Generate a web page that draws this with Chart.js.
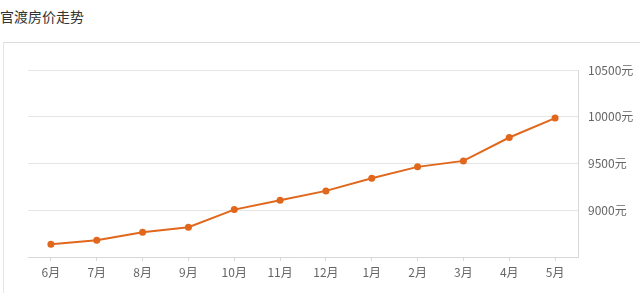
<!DOCTYPE html>
<html>
<head>
<meta charset="utf-8">
<script src="https://cdn.jsdelivr.net/npm/chart.js@4"></script>
<style>
    html, body { margin: 0; padding: 0; background: #fff; }
    body { width: 640px; height: 293px; position: relative; overflow: hidden; }
    .title {
        position: absolute; left: 0; top: 7px;
        font-family: "Noto Sans CJK SC", sans-serif; font-size: 14px; color: #333;
        line-height: 18px;
    }
    .card {
        position: absolute; left: 3px; top: 42px; right: 0; bottom: 0;
        border-top: 1px solid #ddd; border-left: 1px solid #e4e4e4;
    }
    #chart { position: absolute; left: 0; top: 0; }
</style>
</head>
<body>
<div class="title">官渡房价走势</div>
<div class="card"></div>
<canvas id="chart" width="640" height="293"></canvas>
<script>
// Months and average price (元/m²)
const months = ['6月', '7月', '8月', '9月', '10月', '11月', '12月', '1月', '2月', '3月', '4月', '5月'];
const prices = [8636, 8680, 8765, 8818, 9007, 9107, 9207, 9343, 9464, 9528, 9778, 9986];
const yTicks = [8500, 9000, 9500, 10000, 10500];

const lineColor = '#e0671c';
const gridColor = '#e6e6e6';
const font = { family: '"Noto Sans CJK SC", sans-serif', size: 12 };

const ctx = document.getElementById('chart').getContext('2d');
new Chart(ctx, {
    type: 'line',
    data: {
        labels: months,
        datasets: [{
            label: '房价',
            data: prices,
            borderColor: lineColor,
            backgroundColor: lineColor,
            borderWidth: 2,
            pointRadius: 3.5,
            pointBackgroundColor: lineColor,
            pointBorderWidth: 0,
            tension: 0,
            fill: false
        }]
    },
    options: {
        responsive: false,
        animation: false,
        layout: { padding: { left: 28, top: 70, right: 0, bottom: 0 } },
        plugins: {
            legend: { display: false },
            tooltip: { enabled: false }
        },
        scales: {
            x: {
                offset: true,
                grid: { drawOnChartArea: false, tickLength: 4, color: '#d8d8d8' },
                border: { color: '#d8d8d8' },
                ticks: { color: '#666', font: font, padding: 4, maxRotation: 0 },
                afterFit: (scale) => { scale.height = 36; }
            },
            y: {
                position: 'right',
                min: 8500,
                max: 10500,
                afterBuildTicks: (scale) => { scale.ticks = yTicks.map(v => ({ value: v })); },
                grid: { color: gridColor, drawTicks: false },
                border: { color: '#d8d8d8' },
                ticks: {
                    color: '#666', font: font, padding: 10,
                    callback: (v) => v === 8500 ? '' : v + '元'
                },
                afterFit: (scale) => { scale.width = 62; }
            }
        }
    }
});
</script>
</body>
</html>
